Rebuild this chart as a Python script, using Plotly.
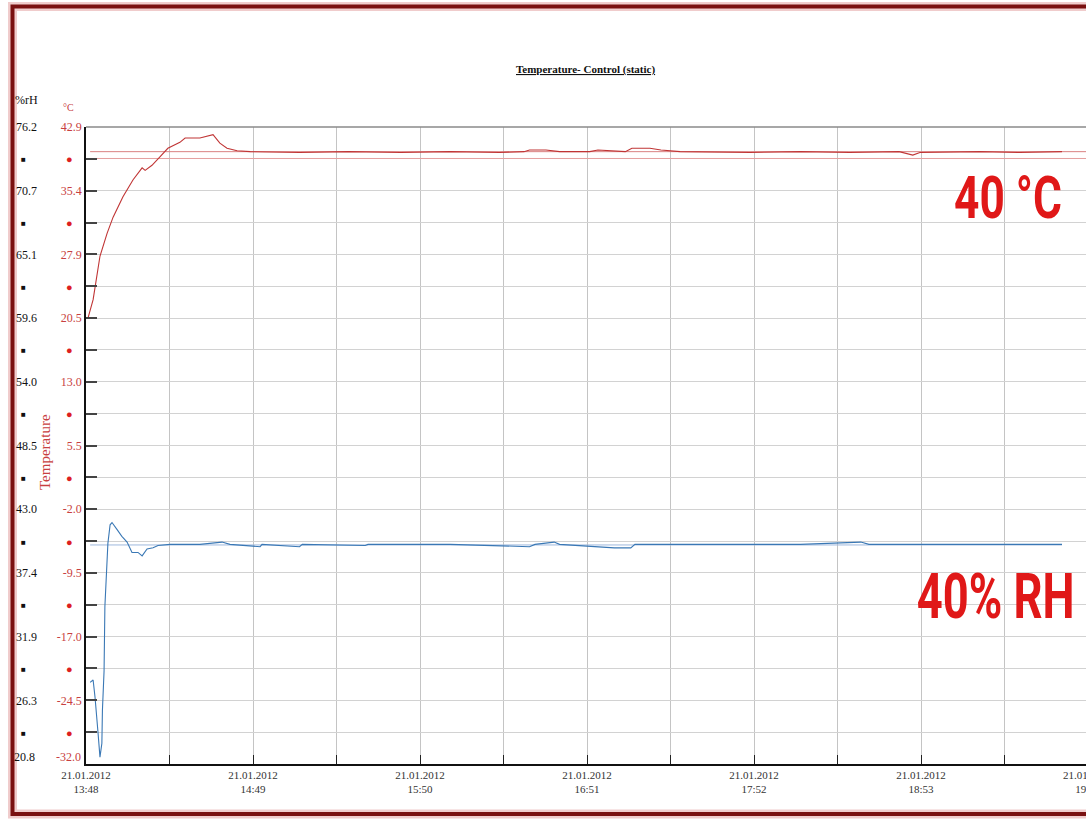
import plotly.graph_objects as go
import pandas as pd

# ---------------- data ----------------
start_time = "2012-01-21 13:48:00"
date_label = "21.01.2012"
x_tick_times = ["13:48", "14:49", "15:50", "16:51", "17:52", "18:53", "19:54"]

temp_tick_labels = ["42.9", "35.4", "27.9", "20.5", "13.0", "5.5", "-2.0", "-9.5", "-17.0", "-24.5", "-32.0"]
rh_tick_labels = ["76.2", "70.7", "65.1", "59.6", "54.0", "48.5", "43.0", "37.4", "31.9", "26.3", "20.8"]
temp_range = [-32.0, 42.9]
rh_range = [20.8, 76.2]

# minutes after 13:48
temp_minutes = [0.7, 2.6, 5.1, 7.7, 9.9, 13.5, 17.2, 20.5, 21.6, 24.1, 27.0, 29.9, 34.3, 36.2,
                41.6, 46.4, 48.9, 51.5, 55.2, 60, 78, 96, 115, 133, 151, 160, 162, 168, 173,
                184, 187, 191, 197, 199.4, 206, 210, 217, 242.5, 261, 279, 297, 302, 304.6,
                326.6, 341, 356.5]
temp_values = [20.4, 22.6, 27.7, 30.4, 32.3, 34.7, 36.7, 38.1, 37.8, 38.4, 39.4, 40.4, 41.1, 41.6,
               41.6, 42.0, 41.0, 40.4, 40.1, 40.0, 39.9, 40.0, 39.9, 40.0, 39.9, 40.0, 40.2, 40.2, 40.0,
               40.0, 40.2, 40.1, 40.0, 40.4, 40.4, 40.2, 40.0, 39.9, 40.0, 39.9, 40.0, 39.6, 39.9,
               40.0, 39.9, 40.0]

rh_minutes = [1.5, 2.6, 3.3, 4.0, 4.4, 5.1, 5.8, 6.0, 6.6, 6.9, 7.3, 8.0, 8.8, 9.5, 11.3, 13.1,
              15.0, 16.8, 19.0, 20.5, 22.3, 24.5, 26.3, 30.7, 41.6, 49.7, 52.6, 63.6, 64.3, 78,
              79, 102, 103, 133, 162, 164, 171, 173, 193, 199, 200.5, 224, 261, 283, 286, 316, 356.5]
rh_values = [27.9, 28.1, 26.6, 24.9, 23.5, 21.4, 22.6, 25.5, 28.9, 34.5, 36.8, 40.0, 41.6, 41.8, 41.2, 40.6,
             40.1, 39.2, 39.2, 38.9, 39.5, 39.6, 39.8, 39.9, 39.9, 40.1, 39.9, 39.7, 39.9, 39.7,
             39.9, 39.8, 39.9, 39.9, 39.7, 39.9, 40.1, 39.9, 39.6, 39.6, 39.9, 39.9, 39.9, 40.1, 39.9, 39.9, 39.9]

temp_setpoint = 40.0
temp_band = 39.2
rh_setpoint = 39.85

# ---------------- layout geometry ----------------
W, H = 1086, 821
PL, PT, PB = 86, 127, 764          # plot left / top / bottom in px
PX_PER_MIN = 167 / 61
x_end_min = (W - PL) / PX_PER_MIN

start = pd.Timestamp(start_time)
def tm(m):
    return start + pd.to_timedelta(m, unit="min")

def px(xp):
    return xp / W

def py(yp):
    return (PB - yp) / (PB - PT)

SERIF = "Liberation Serif"
TEMP_COL = "#c84040"
fig = go.Figure()

# setpoint / reference lines
fig.add_trace(go.Scatter(x=[tm(temp_minutes[0] + 0.8), tm(x_end_min)], y=[temp_setpoint] * 2,
                         mode="lines", line=dict(color="#d98080", width=1), yaxis="y", hoverinfo="skip"))
fig.add_trace(go.Scatter(x=[tm(temp_minutes[0] + 0.8), tm(x_end_min)], y=[temp_band] * 2,
                         mode="lines", line=dict(color="#e6a0a0", width=1), yaxis="y", hoverinfo="skip"))
fig.add_trace(go.Scatter(x=[tm(rh_minutes[0]), tm(rh_minutes[-1])], y=[rh_setpoint] * 2,
                         mode="lines", line=dict(color="#9fb8dd", width=1), yaxis="y2", hoverinfo="skip"))

# data
fig.add_trace(go.Scatter(x=[tm(m) for m in temp_minutes], y=temp_values, mode="lines",
                         line=dict(color="#c03535", width=1.1), yaxis="y", name="Temperature"))
fig.add_trace(go.Scatter(x=[tm(m) for m in rh_minutes], y=rh_values, mode="lines",
                         line=dict(color="#3a78b5", width=1.1), yaxis="y2", name="%rH"))

# x ticks every 30.5 min
n_x = 2 * (len(x_tick_times) - 1)
xt_vals, xt_text = [], []
for i in range(n_x):
    m = i * 30.5
    if m > x_end_min:
        break
    xt_vals.append(tm(m))
    xt_text.append(f"{date_label}<br>{x_tick_times[i // 2]}" if i % 2 == 0 else "")

# y ticks (half steps); the bottom-most labels sit a little higher in the reference
nt = len(temp_tick_labels)
t_step = (temp_range[1] - temp_range[0]) / (nt - 1)
yt_vals = [temp_range[1] - k * t_step / 2 for k in range(2 * (nt - 1) + 1)]
yt_text = [temp_tick_labels[k // 2] if k % 2 == 0 else "" for k in range(len(yt_vals))]
yt_text[-1] = ""
r_step = (rh_range[1] - rh_range[0]) / (len(rh_tick_labels) - 1)
rh_vals = [rh_range[1] - k * r_step for k in range(len(rh_tick_labels))]
rh_text = list(rh_tick_labels)
rh_text[-1] = ""

fig.update_layout(
    width=W, height=H,
    margin=dict(l=0, r=0, t=PT, b=H - PB),
    paper_bgcolor="white", plot_bgcolor="white",
    showlegend=False,
    xaxis=dict(domain=[px(PL), 1], range=[tm(0), tm(x_end_min)], tickmode="array",
               tickvals=xt_vals, ticktext=xt_text, showgrid=True, gridcolor="#c4c4c4", gridwidth=1,
               ticks="inside", ticklen=9, tickcolor="#222", showline=True, linecolor="#111", linewidth=1.5,
               tickfont=dict(family=SERIF, size=11, color="#333"), zeroline=False, automargin=False),
    yaxis=dict(range=temp_range, tickmode="array", tickvals=yt_vals, ticktext=yt_text,
               showgrid=True, gridcolor="#d2d2d2", gridwidth=1, ticks="inside", ticklen=11,
               tickcolor="#444", tickwidth=1.5, showline=True, linecolor="#111", linewidth=1.5,
               tickfont=dict(family=SERIF, size=12, color=TEMP_COL), zeroline=False, automargin=False),
    yaxis2=dict(range=rh_range, overlaying="y", anchor="free", position=px(37), side="left",
                tickmode="array", tickvals=rh_vals, ticktext=rh_text, showgrid=False,
                ticks="", showline=False, zeroline=False,
                tickfont=dict(family=SERIF, size=12, color="#111"), automargin=False),
)

ann = []
def A(**kw):
    d = dict(showarrow=False, xanchor="center", yanchor="middle")
    d.update(kw)
    ann.append(d)

# bottom-most axis labels, nudged up as in the reference
A(x=px(37), y=py(757), xref="paper", yref="paper", xanchor="right", text=rh_tick_labels[-1],
  font=dict(family=SERIF, size=12, color="#111"))
A(x=px(83), y=py(757), xref="paper", yref="paper", xanchor="right", text=temp_tick_labels[-1],
  font=dict(family=SERIF, size=12, color=TEMP_COL))

# small markers between labels
for k in range(len(rh_tick_labels) - 1):
    A(x=px(23), y=rh_vals[k] - r_step / 2, xref="paper", yref="y2", text="■",
      font=dict(size=8, color="#111"))
    A(x=px(69), y=temp_range[1] - (k + 0.5) * t_step, xref="paper", yref="y", text="●",
      font=dict(size=11, color="#dd2020"))
# headers
A(x=px(26), y=py(100), xref="paper", yref="paper", text="%rH",
  font=dict(family=SERIF, size=12, color="#111"))
A(x=px(68), y=py(108), xref="paper", yref="paper", text="°C",
  font=dict(family=SERIF, size=10, color=TEMP_COL))
A(x=px(45), y=py(452), xref="paper", yref="paper", text="Temperature", textangle=-90,
  font=dict(family=SERIF, size=15, color=TEMP_COL))
# title
A(x=px(585), y=py(69), xref="paper", yref="paper",
  text="<u><b>Temperature- Control (static)</b></u>",
  font=dict(family=SERIF, size=11, color="#111"))
# last (clipped) x label
A(x=px(PL + 6 * 167), y=py(767), xref="paper", yref="paper", yanchor="top",
  text=f"{date_label}<br>{x_tick_times[-1]}",
  font=dict(family=SERIF, size=11, color="#333"))
# big labels
BIG = "Roboto, Arial"
A(x=px(1008), y=py(197), xref="paper", yref="paper", text="<b>40 °C</b>",
  font=dict(family=BIG, size=59, color="#e01818"))
A(x=px(995), y=py(596), xref="paper", yref="paper", text="<b>40% RH</b>",
  font=dict(family=BIG, size=63, color="#e01818"))
fig.update_layout(annotations=ann)

# plot top border and outer frame
fig.add_shape(type="line", xref="paper", yref="paper", x0=px(PL), x1=1, y0=1, y1=1,
              line=dict(color="#8a8a8a", width=1.5))
fig.add_shape(type="rect", xref="paper", yref="paper", x0=px(12.5), x1=1.05, y0=py(814), y1=py(6.5),
              line=dict(color="#f0cccc", width=9), layer="below")
fig.add_shape(type="rect", xref="paper", yref="paper", x0=px(12.5), x1=1.05, y0=py(814), y1=py(6.5),
              line=dict(color="#7a1010", width=4))

# the big labels in the reference use a horizontally condensed face
post = """
var gd = document.getElementById('{plot_id}');
function squeeze(){
  gd.querySelectorAll('text.annotation-text').forEach(function(t){
    var s = t.textContent;
    var f = null;
    if (s === '40 °C') f = 0.75;
    if (s === '40% RH') f = 0.72;
    if (f) {
      t.style.transformBox = 'fill-box';
      t.style.transformOrigin = 'center';
      t.style.transform = 'scaleX(' + f + ')';
    }
  });
}
squeeze();
if (gd.on) gd.on('plotly_afterplot', squeeze);
"""
fig.write_html("out.html", config={"displayModeBar": False}, post_script=post)
